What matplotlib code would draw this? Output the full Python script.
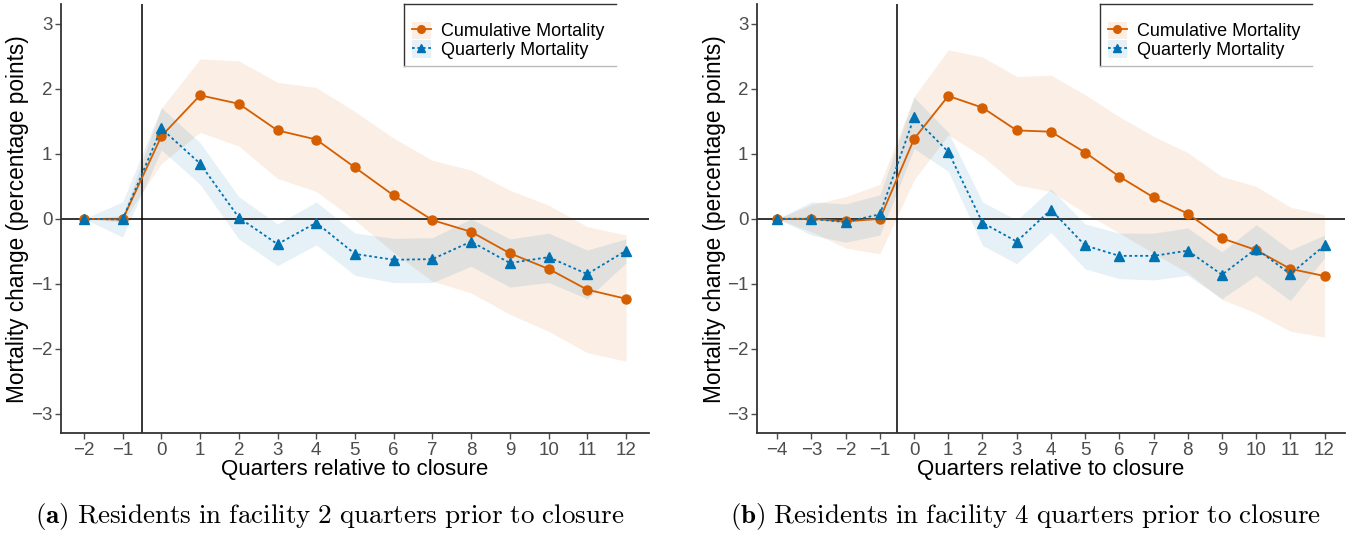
import matplotlib.pyplot as plt
from matplotlib.patches import Patch
from matplotlib.lines import Line2D

plt.rcParams['font.family'] = ['Liberation Sans', 'DejaVu Sans']
plt.rcParams['mathtext.fontset'] = 'cm'

# quarters relative to closure
qa = list(range(-2, 13))
qb = list(range(-4, 13))

# panel a: residents 2 quarters prior
cum_a = [0, -0.01, 1.27, 1.90, 1.77, 1.36, 1.22, 0.79, 0.36, -0.02, -0.20, -0.53, -0.77, -1.09, -1.23]
cum_a_lo = [0, -0.05, 0.85, 1.33, 1.12, 0.62, 0.42, -0.02, -0.52, -0.96, -1.14, -1.47, -1.73, -2.06, -2.19]
cum_a_hi = [0, 0.05, 1.70, 2.46, 2.43, 2.10, 2.02, 1.65, 1.24, 0.90, 0.75, 0.44, 0.21, -0.12, -0.25]
qtr_a = [0, -0.01, 1.39, 0.85, 0.02, -0.39, -0.06, -0.54, -0.63, -0.62, -0.35, -0.68, -0.59, -0.85, -0.49]
qtr_a_lo = [0, -0.28, 1.06, 0.53, -0.31, -0.72, -0.40, -0.87, -0.98, -0.98, -0.73, -1.05, -0.98, -1.23, -0.68]
qtr_a_hi = [0, 0.26, 1.71, 1.17, 0.34, -0.08, 0.26, -0.22, -0.30, -0.29, 0.00, -0.31, -0.22, -0.48, -0.31]

# panel b: residents 4 quarters prior
cum_b = [0, 0, -0.04, 0.0, 1.23, 1.89, 1.71, 1.36, 1.34, 1.02, 0.65, 0.33, 0.08, -0.30, -0.48, -0.77, -0.88]
cum_b_lo = [0, -0.20, -0.45, -0.54, 0.60, 1.29, 0.96, 0.52, 0.42, 0.09, -0.22, -0.53, -0.83, -1.24, -1.45, -1.73, -1.82]
cum_b_hi = [0, 0.22, 0.34, 0.53, 1.88, 2.60, 2.49, 2.19, 2.21, 1.91, 1.57, 1.27, 1.02, 0.65, 0.50, 0.18, 0.06]
qtr_b = [0, 0, -0.05, 0.07, 1.56, 1.03, -0.06, -0.35, 0.14, -0.41, -0.57, -0.57, -0.49, -0.86, -0.46, -0.85, -0.41]
qtr_b_lo = [0, -0.25, -0.36, -0.25, 1.08, 0.73, -0.41, -0.69, -0.21, -0.77, -0.92, -0.94, -0.87, -1.23, -0.87, -1.26, -0.60]
qtr_b_hi = [0, 0.26, 0.23, 0.37, 1.87, 1.33, 0.26, -0.02, 0.46, -0.08, -0.22, -0.22, -0.14, -0.51, -0.09, -0.48, -0.25]

series_names = ['Cumulative Mortality', 'Quarterly Mortality']
captions = [r'$\mathbf{(a)}\ \mathrm{Residents\ in\ facility\ 2\ quarters\ prior\ to\ closure}$',
            r'$\mathbf{(b)}\ \mathrm{Residents\ in\ facility\ 4\ quarters\ prior\ to\ closure}$']

orange = '#D55E00'
blue = '#0072B2'
grey = '#4D4D4D'
band_alpha = 0.1

fig = plt.figure(figsize=(13.54, 5.35), dpi=100)
axa = fig.add_axes([0.0448, 0.190, 0.4347, 0.802])
axb = fig.add_axes([0.5589, 0.190, 0.4345, 0.802])

panels = [(axa, qa, cum_a, cum_a_lo, cum_a_hi, qtr_a, qtr_a_lo, qtr_a_hi),
          (axb, qb, cum_b, cum_b_lo, cum_b_hi, qtr_b, qtr_b_lo, qtr_b_hi)]

legends = []
for ax, q, c, clo, chi, m, mlo, mhi in panels:
    ax.fill_between(q, clo, chi, color=orange, alpha=band_alpha, lw=0)
    ax.fill_between(q, mlo, mhi, color=blue, alpha=band_alpha, lw=0)
    ax.axhline(0, color='#333333', lw=1.4, zorder=2)
    ax.axvline(-0.5, color='black', lw=1.1, zorder=2)
    ax.plot(q, c, color=orange, lw=1.3, marker='o', ms=6.5, zorder=3)
    ax.plot(q, m, color=blue, lw=1.3, ls=(0, (1.5, 1.5)), marker='^', ms=7.5, zorder=4)

    ax.set_xlim(q[0] - 0.6, 12.6)
    ax.set_ylim(-3.3, 3.3)
    ax.set_xticks(q)
    ax.set_yticks([-3, -2, -1, 0, 1, 2, 3])
    ax.tick_params(colors=grey, labelsize=13.5, length=4, width=1, labelcolor=grey)
    ax.tick_params(axis='y', pad=2)
    ax.tick_params(axis='x', pad=2)
    for s in ['top', 'right']:
        ax.spines[s].set_visible(False)
    for s in ['left', 'bottom']:
        ax.spines[s].set_color('#333333')
        ax.spines[s].set_linewidth(1.3)
    ax.set_xlabel('Quarters relative to closure', fontsize=16, labelpad=0)
    ax.set_ylabel('Mortality change (percentage points)', fontsize=16.3, labelpad=1)

    handles = [(Patch(facecolor=orange, alpha=band_alpha, lw=0),
                Line2D([], [], color=orange, lw=1.3, marker='o', ms=5.5)),
               (Patch(facecolor=blue, alpha=band_alpha, lw=0),
                Line2D([], [], color=blue, lw=1.3, ls=(0, (1.5, 1.5)), marker='^', ms=6))]
    leg = ax.legend(handles, series_names, title=' ', title_fontsize=8,
                    loc='upper left', bbox_to_anchor=(0.584, 1.0), fontsize=13,
                    frameon=False, handlelength=1.05, handleheight=1.1,
                    labelspacing=0.0, borderpad=0.4, handletextpad=0.6,
                    borderaxespad=0)
    legends.append(leg)

# legend box: top, left and bottom edges only
fig.canvas.draw()
inv = fig.transFigure.inverted()
for leg in legends:
    bb = leg.get_window_extent()
    (x0, y0), (x1, y1) = inv.transform([[bb.x0, bb.y0], [bb.x1 + 4, bb.y1]])
    fig.add_artist(Line2D([x0, x1], [y1, y1], color='#333333', lw=1.0))
    fig.add_artist(Line2D([x0, x0], [y0, y1], color='#333333', lw=1.0))
    fig.add_artist(Line2D([x0, x1], [y0, y0], color='#BBBBBB', lw=1.0))

fig.text(0.2437, 0.034, captions[0], fontsize=19.5, ha='center', va='center')
fig.text(0.7578, 0.034, captions[1], fontsize=19.5, ha='center', va='center')

fig.savefig('out.png', dpi=100)
